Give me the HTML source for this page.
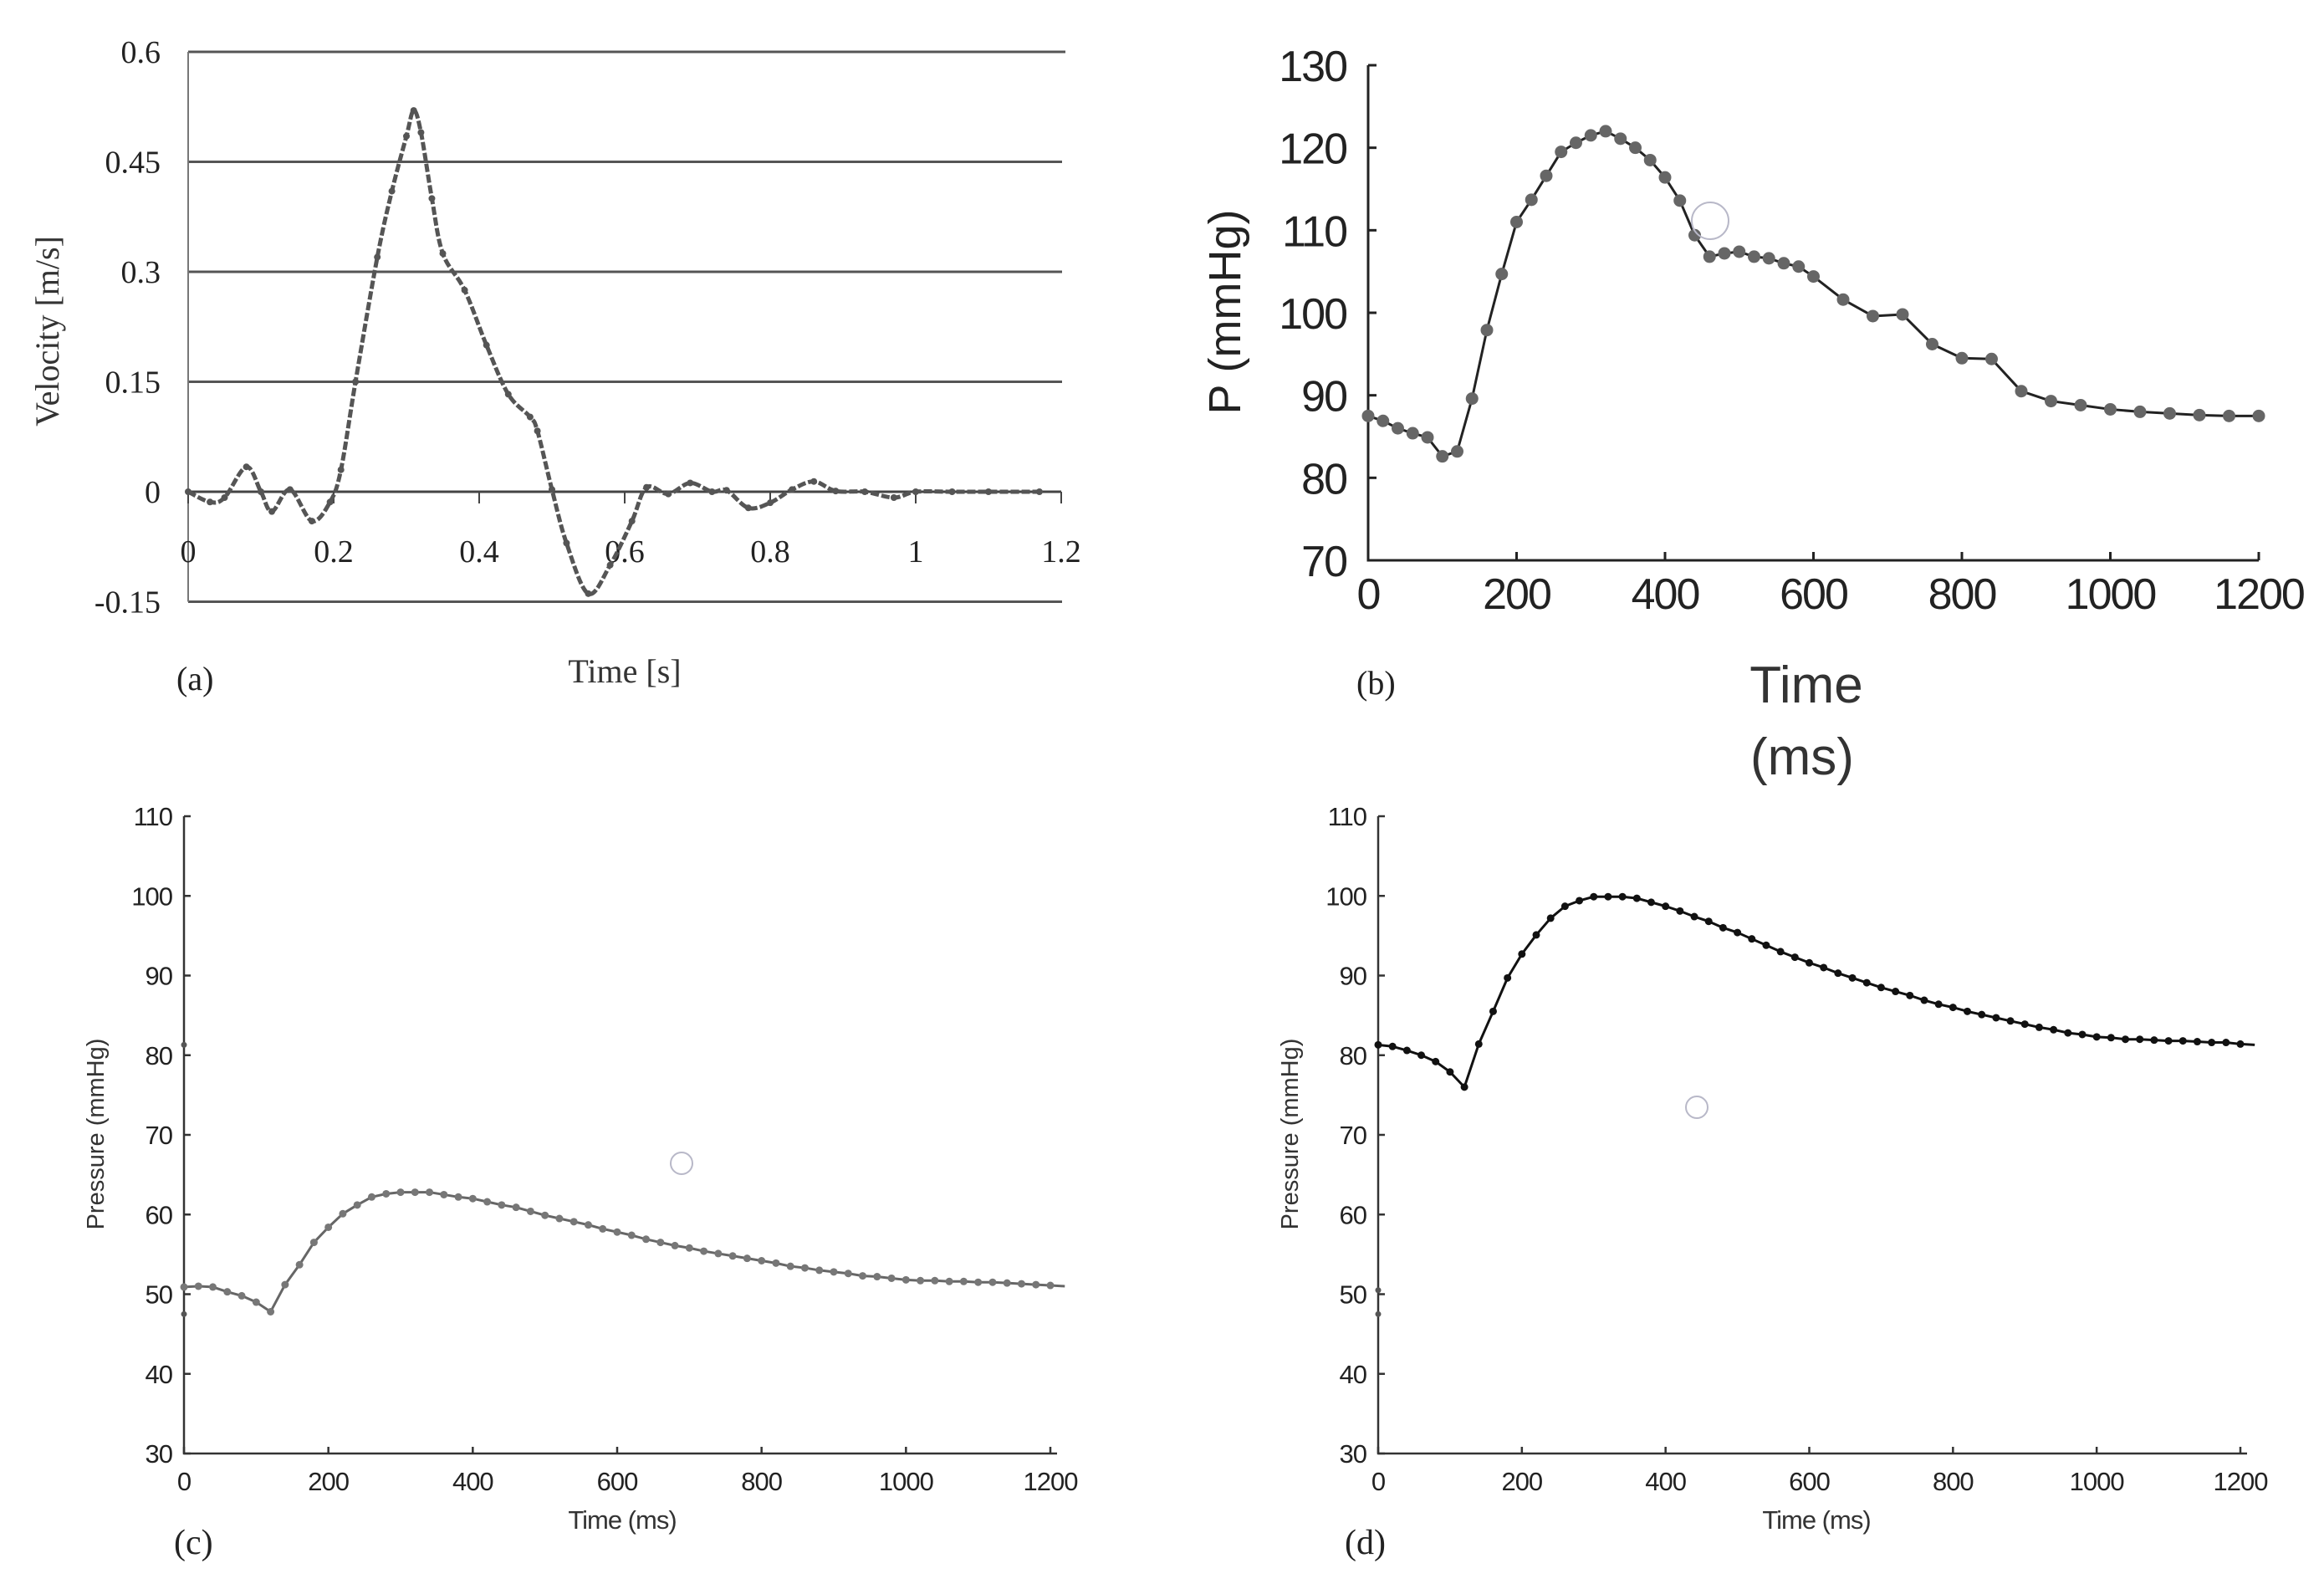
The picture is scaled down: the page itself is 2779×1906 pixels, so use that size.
<!DOCTYPE html>
<html><head><meta charset="utf-8">
<style>
html,body{margin:0;padding:0;background:#fff;}
svg{display:block;}
.serif{font-family:"Liberation Serif",serif;}
.sans{font-family:"Liberation Sans",sans-serif;}
</style></head>
<body>
<svg id="fig" width="2779" height="1906" viewBox="0 0 2779 1906" xmlns="http://www.w3.org/2000/svg">
<g id="pa"></g>
<g id="pb"></g>
<g id="pc"></g>
<g id="pd"></g>
</svg>
<script>
// Panel (a) data
const aTime = [0,0.03,0.05,0.08,0.1,0.115,0.14,0.17,0.195,0.21,0.23,0.26,0.28,0.3,0.31,0.32,0.335,0.35,0.38,0.41,0.44,0.47,0.48,0.5,0.52,0.55,0.58,0.61,0.63,0.66,0.69,0.72,0.74,0.77,0.8,0.83,0.86,0.89,0.93,0.97,1.0,1.05,1.1,1.17];
const aVel = [0,-0.014,-0.008,0.034,0,-0.027,0.003,-0.04,-0.014,0.03,0.15,0.32,0.41,0.485,0.52,0.49,0.40,0.325,0.275,0.2,0.133,0.102,0.083,0.003,-0.07,-0.139,-0.10,-0.04,0.006,-0.003,0.012,0,0.002,-0.022,-0.015,0.003,0.014,0.001,0,-0.008,0,0,0,0];
const aYTicks = [0.6,0.45,0.3,0.15,0,-0.15];
const aYLabels = ["0.6","0.45","0.3","0.15","0","-0.15"];
const aXTicks = [0,0.2,0.4,0.6,0.8,1,1.2];
const aXLabels = ["0","0.2","0.4","0.6","0.8","1","1.2"];
// Panel (b) data
const bTime = [0,20,40,60,80,100,120,140,160,180,200,220,240,260,280,300,320,340,360,380,400,420,440,460,480,500,520,540,560,580,600,640,680,720,760,800,840,880,920,960,1000,1040,1080,1120,1160,1200];
const bP = [87.5,86.9,86.0,85.4,84.9,82.6,83.2,89.6,97.9,104.7,111.0,113.7,116.6,119.5,120.6,121.5,122.0,121.1,120.0,118.5,116.4,113.6,109.4,106.8,107.2,107.4,106.8,106.6,106.0,105.6,104.4,101.6,99.6,99.8,96.2,94.5,94.4,90.5,89.3,88.8,88.3,88.0,87.8,87.6,87.5,87.5];
const bYTicks = [70,80,90,100,110,120,130];
const bXTicks = [0,200,400,600,800,1000,1200];
// Panel (c) data
const cTime = [0,20,40,60,80,100,120,140,160,180,200,220,240,260,280,300,320,340,360,380,400,420,440,460,480,500,520,540,560,580,600,620,640,660,680,700,720,740,760,780,800,820,840,860,880,900,920,940,960,980,1000,1020,1040,1060,1080,1100,1120,1140,1160,1180,1200];
const cP = [50.9,51.0,50.9,50.3,49.8,49.0,47.8,51.2,53.7,56.5,58.4,60.1,61.2,62.2,62.6,62.8,62.8,62.8,62.5,62.2,62.0,61.6,61.2,60.9,60.4,59.9,59.5,59.1,58.7,58.2,57.8,57.4,56.9,56.5,56.1,55.8,55.4,55.1,54.8,54.5,54.2,53.9,53.5,53.3,53.0,52.8,52.6,52.3,52.2,52.0,51.8,51.7,51.7,51.6,51.6,51.5,51.5,51.4,51.3,51.2,51.1];
// Panel (d) data
const dTime = cTime;
const dP = [81.3,81.1,80.6,80.0,79.2,77.9,76.0,81.4,85.5,89.7,92.7,95.1,97.2,98.7,99.4,99.9,99.9,99.9,99.7,99.2,98.7,98.1,97.4,96.8,96.0,95.4,94.6,93.8,93.0,92.3,91.6,91.0,90.3,89.7,89.1,88.5,88.0,87.5,86.9,86.4,86.0,85.5,85.1,84.7,84.3,83.9,83.5,83.2,82.8,82.6,82.3,82.2,82.0,82.0,81.9,81.8,81.8,81.7,81.6,81.6,81.4];
const cdYTicks = [30,40,50,60,70,80,90,100,110];
const cdXTicks = [0,200,400,600,800,1000,1200];

const NS = "http://www.w3.org/2000/svg";
function mk(parent, tag, attrs, text){
  const e = document.createElementNS(NS, tag);
  for (const k in attrs) e.setAttribute(k, attrs[k]);
  if (text !== undefined) e.textContent = text;
  parent.appendChild(e);
  return e;
}
function lin(d0,d1,r0,r1){ return v => r0 + (v-d0)/(d1-d0)*(r1-r0); }
function smooth(p){
  let d = 'M'+p[0][0]+','+p[0][1];
  for (let i=0;i<p.length-1;i++){
    const p0=p[i-1]||p[i], p1=p[i], p2=p[i+1], p3=p[i+2]||p2;
    const c1x=p1[0]+(p2[0]-p0[0])/6, c1y=p1[1]+(p2[1]-p0[1])/6;
    const c2x=p2[0]-(p3[0]-p1[0])/6, c2y=p2[1]-(p3[1]-p1[1])/6;
    d+=' C'+c1x+','+c1y+' '+c2x+','+c2y+' '+p2[0]+','+p2[1];
  }
  return d;
}

// ---------- Panel A ----------
(function(){
  const g = document.getElementById('pa');
  const X = lin(0,1.2,225,1269), Y = lin(0,0.6,588,62);
  aYTicks.forEach((v,i)=>{
    if (v!==0){
      const l = mk(g,'line',{x1:225,x2:v===0.6?1274:1270,y1:Y(v),y2:Y(v),stroke:'#555','stroke-width':3});
      
      
    }
    const t = mk(g,'text',{x:192,y:Y(v)+13,'text-anchor':'end','font-size':38,fill:'#222',class:'serif'},aYLabels[i]);
    
    
  });
  const ax = mk(g,'line',{x1:225,x2:225,y1:Y(0.6),y2:Y(-0.15),stroke:'#777','stroke-width':2});
  
  
  const xa = mk(g,'line',{x1:225,x2:1269,y1:Y(0),y2:Y(0),stroke:'#444','stroke-width':3});
  
  
  aXTicks.forEach((v,i)=>{
    const tk = mk(g,'line',{x1:X(v),x2:X(v),y1:Y(0),y2:Y(0)+14,stroke:'#444','stroke-width':2});
    
    
    const t = mk(g,'text',{x:X(v),y:672,'text-anchor':'middle','font-size':38,fill:'#222',class:'serif'},aXLabels[i]);
    
    
  });
  const pts = aTime.map((t,i)=>[X(t),Y(aVel[i])]);
  const pl = mk(g,'path',{d:smooth(pts),fill:'none',stroke:'#555','stroke-width':5,'stroke-linejoin':'round','stroke-dasharray':'10 3'});
  
  
  aTime.forEach((t,i)=>{
    const c = mk(g,'circle',{cx:X(t),cy:Y(aVel[i]),r:4,fill:'#555'});
    
    
  });
  const yt = mk(g,'text',{x:0,y:0,transform:'translate(70,396) rotate(-90)','text-anchor':'middle','font-size':40,fill:'#333',class:'serif'},'Velocity [m/s]');
  
  
  const xt = mk(g,'text',{x:747,y:816,'text-anchor':'middle','font-size':40,fill:'#333',class:'serif'},'Time [s]');
  
  
  const lb = mk(g,'text',{x:211,y:825,'font-size':40,fill:'#222',class:'serif'},'(a)');
  
  
})();

// ---------- Panel B ----------
(function(){
  const g = document.getElementById('pb');
  const X = lin(0,1200,1636,2701), Y = lin(70,130,670,78);
  const ax = mk(g,'polyline',{points:`1636,${Y(130)} 1636,${Y(70)} 2701,${Y(70)}`,fill:'none',stroke:'#222','stroke-width':3});
  
  
  bYTicks.forEach(v=>{
    const tk = mk(g,'line',{x1:1636,x2:1646,y1:Y(v),y2:Y(v),stroke:'#222','stroke-width':3});
    
    
    const t = mk(g,'text',{x:1610,y:Y(v)+19,'text-anchor':'end','font-size':52,fill:'#222',class:'sans','letter-spacing':-2},String(v));
    
    
  });
  bXTicks.forEach(v=>{
    const tk = mk(g,'line',{x1:X(v),x2:X(v),y1:Y(70),y2:Y(70)-10,stroke:'#222','stroke-width':3});
    
    
    const t = mk(g,'text',{x:X(v),y:728,'text-anchor':'middle','font-size':52,fill:'#222',class:'sans','letter-spacing':-2},String(v));
    
    
  });
  const pts = bTime.map((t,i)=>X(t)+','+Y(bP[i])).join(' ');
  const pl = mk(g,'polyline',{points:pts,fill:'none',stroke:'#222','stroke-width':3,'stroke-linejoin':'round'});
  
  
  bTime.forEach((t,i)=>{
    const c = mk(g,'circle',{cx:X(t),cy:Y(bP[i]),r:7.5,fill:'#666'});
    
    
  });
  const ring = mk(g,'circle',{cx:2045,cy:264,r:22,fill:'none',stroke:'#b8b8c8','stroke-width':2});
  
  
  const yt = mk(g,'text',{x:0,y:0,transform:'translate(1483,373) rotate(-90)','text-anchor':'middle','font-size':54,fill:'#222',class:'sans'},'P (mmHg)');
  
  
  const xt = mk(g,'text',{x:2160,y:840,'text-anchor':'middle','font-size':62,fill:'#333',class:'sans'},'Time');
  
  
  const xt2 = mk(g,'text',{x:2155,y:926,'text-anchor':'middle','font-size':62,fill:'#333',class:'sans'},'(ms)');
  
  
  const lb = mk(g,'text',{x:1622,y:830,'font-size':40,fill:'#222',class:'serif'},'(b)');
  
  
})();

// ---------- Panels C and D ----------
function drawCD(id, x0, x1, times, vals, lineCol, ptCol, ringX, ringY, label, labelX, stray){
  const g = document.getElementById(id);
  const X = lin(0,1200,x0,x1), Y = lin(30,110,1738,976);
  const ax = mk(g,'polyline',{points:`${x0},${Y(110)} ${x0},${Y(30)} ${x1+8},${Y(30)}`,fill:'none',stroke:'#333','stroke-width':2.5});
  
  
  cdYTicks.forEach(v=>{
    const tk = mk(g,'line',{x1:x0,x2:x0+8,y1:Y(v),y2:Y(v),stroke:'#333','stroke-width':2.5});
    
    
    const t = mk(g,'text',{x:x0-14,y:Y(v)+11,'text-anchor':'end','font-size':31,fill:'#222',class:'sans','letter-spacing':-1},String(v));
    
    
  });
  cdXTicks.forEach(v=>{
    const tk = mk(g,'line',{x1:X(v),x2:X(v),y1:Y(30),y2:Y(30)-8,stroke:'#333','stroke-width':2.5});
    
    
    const t = mk(g,'text',{x:X(v),y:1782,'text-anchor':'middle','font-size':31,fill:'#222',class:'sans','letter-spacing':-1},String(v));
    
    
  });
  const pts = times.map((t,i)=>X(t)+','+Y(vals[i])).join(' ') + ' ' + X(1220)+','+Y(vals[vals.length-1]-0.1);
  const pl = mk(g,'polyline',{points:pts,fill:'none',stroke:lineCol,'stroke-width':3,'stroke-linejoin':'round'});
  
  
  times.forEach((t,i)=>{
    const c = mk(g,'circle',{cx:X(t),cy:Y(vals[i]),r:4.5,fill:ptCol});
    
    
  });
  stray.forEach(v=>{
    const c = mk(g,'circle',{cx:x0,cy:Y(v),r:3.5,fill:'#555'});
    
    
  });
  const ring = mk(g,'circle',{cx:ringX,cy:ringY,r:13,fill:'none',stroke:'#b8b8c8','stroke-width':2});
  
  
  const yt = mk(g,'text',{x:0,y:0,transform:`translate(${x0-96},1356) rotate(-90)`,'text-anchor':'middle','font-size':29,fill:'#333',class:'sans'},'Pressure (mmHg)');
  
  
  const xt = mk(g,'text',{x:x0+524,y:1828,'text-anchor':'middle','font-size':31,fill:'#333',class:'sans','letter-spacing':-1},'Time (ms)');
  
  
  const lb = mk(g,'text',{x:labelX,y:1858,'font-size':42,fill:'#222',class:'serif'},label);
  
  
}
drawCD('pc',220,1256,cTime,cP,'#666','#777',815,1391,'(c)',208,[81.3,47.5]);
drawCD('pd',1648,2679,dTime,dP,'#111','#111',2029,1324,'(d)',1608,[50.5,47.5]);
</script>
</body></html>
